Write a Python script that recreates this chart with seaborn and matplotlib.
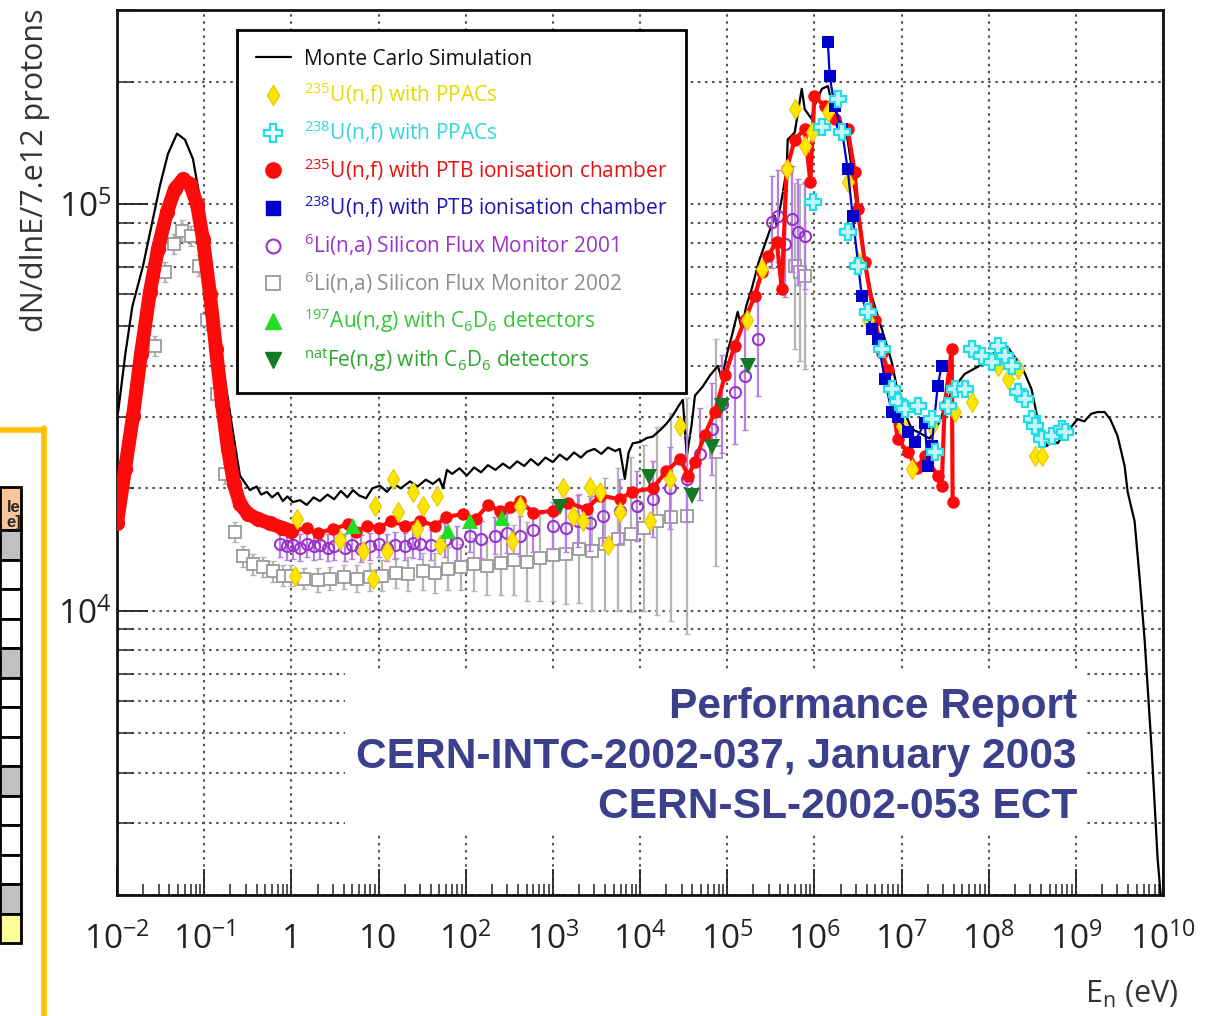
import numpy as np
import matplotlib
matplotlib.use("Agg")
import matplotlib.pyplot as plt
import seaborn as sns
from matplotlib.lines import Line2D
from matplotlib.patches import Rectangle
from matplotlib.ticker import FixedLocator, FixedFormatter, NullFormatter, LogLocator

# ---------------- data ----------------
mc_E = [0.0103, 0.0125, 0.015, 0.0199, 0.025, 0.0311, 0.0385, 0.0488, 0.0602, 0.0744,
        0.0896, 0.117, 0.164, 0.214, 0.257, 0.30, 0.335, 0.40, 0.45, 0.525, 0.60, 0.70,
        0.80, 0.90, 1.04, 1.26, 1.5, 1.8, 2.13, 2.6, 3.1, 3.7, 4.4, 5.1, 6.0, 7.2, 8.5,
        10.4, 12.5, 15, 18, 23, 28, 35, 42, 50, 55, 61, 70, 85, 103, 125, 150, 180, 220,
        267, 320, 390, 470, 560, 680, 820, 1000, 1200, 1450, 1750, 2100, 2455, 3000, 3600,
        4300, 5200, 5860, 6700, 7400, 8260, 1.0e4, 1.2e4, 1.4e4, 1.7e4, 2.0e4, 2.38e4,
        2.8e4, 3.1e4, 3.44e4, 3.9e4, 4.27e4, 5.2e4, 6.3e4, 7.8e4, 8.67e4, 1.0e5, 1.13e5,
        1.32e5, 1.47e5, 1.65e5, 1.91e5, 2.3e5, 2.92e5, 3.52e5, 3.71e5, 4.3e5, 4.82e5,
        4.95e5, 5.96e5, 7.17e5, 7.76e5, 9.3e5, 1.0e6, 1.22e6, 1.43e6, 1.62e6, 2.0e6,
        2.41e6, 2.8e6, 3.15e6, 3.79e6, 4.55e6, 5.93e6, 7.72e6, 9.06e6, 1.1e7, 1.31e7,
        1.7e7, 2.1e7, 2.7e7, 3.2e7, 3.86e7, 5.3e7, 7.5e7, 9.0e7, 1.11e8, 1.3e8, 1.65e8,
        2.0e8, 2.39e8, 3.11e8, 3.65e8, 4.63e8, 5.5e8, 6.2e8, 7.44e8, 8.5e8, 1.05e9,
        1.25e9, 1.5e9, 1.78e9, 2.14e9, 2.5e9, 3.01e9, 3.63e9, 3.93e9, 4.72e9, 5.4e9,
        6.15e9, 7.4e9, 8.67e9, 9.6e9]
mc_flux = [3.08e4, 4.3e4, 5.6e4, 7.05e4, 8.9e4, 1.11e5, 1.33e5, 1.49e5, 1.44e5, 1.29e5,
           1.03e5, 7.05e4, 4.0e4, 2.75e4, 2.15e4, 2.05e4, 1.98e4, 2.02e4, 1.93e4, 1.96e4,
           1.90e4, 1.95e4, 1.86e4, 1.91e4, 1.85e4, 1.87e4, 1.82e4, 1.90e4, 1.86e4, 1.93e4,
           1.88e4, 1.97e4, 1.90e4, 1.98e4, 1.92e4, 1.89e4, 2.00e4, 2.03e4, 1.96e4, 2.05e4,
           2.00e4, 2.08e4, 2.02e4, 2.10e4, 2.05e4, 2.11e4, 2.00e4, 2.22e4, 2.17e4, 2.24e4,
           2.15e4, 2.25e4, 2.19e4, 2.28e4, 2.22e4, 2.30e4, 2.24e4, 2.33e4, 2.27e4, 2.36e4,
           2.28e4, 2.38e4, 2.32e4, 2.42e4, 2.35e4, 2.45e4, 2.38e4, 2.46e4, 2.50e4, 2.43e4,
           2.52e4, 2.47e4, 2.50e4, 2.11e4, 2.45e4, 2.58e4, 2.60e4, 2.66e4, 2.68e4, 2.78e4,
           2.88e4, 3.02e4, 3.20e4, 3.30e4, 2.40e4, 2.85e4, 3.38e4, 3.55e4, 3.78e4, 4.00e4,
           3.72e4, 4.30e4, 4.74e4, 5.43e4, 4.94e4, 5.60e4, 6.18e4, 7.20e4, 8.34e4, 9.35e4,
           8.83e4, 1.05e5, 1.22e5, 1.44e5, 1.50e5, 1.92e5, 1.71e5, 1.62e5, 1.74e5, 1.92e5,
           1.95e5, 1.74e5, 1.60e5, 1.44e5, 1.15e5, 9.35e4, 7.20e4, 5.94e4, 4.94e4, 4.09e4,
           3.45e4, 3.05e4, 2.80e4, 2.72e4, 2.65e4, 2.90e4, 3.20e4, 3.50e4, 3.82e4, 3.98e4,
           4.10e4, 4.28e4, 4.38e4, 4.45e4, 4.20e4, 4.00e4, 3.50e4, 2.96e4, 2.54e4, 2.62e4,
           2.58e4, 2.75e4, 2.80e4, 2.96e4, 2.92e4, 3.05e4, 3.08e4, 3.08e4, 2.95e4, 2.69e4,
           2.27e4, 1.96e4, 1.66e4, 1.20e4, 8.5e3, 4.58e3, 2.46e3, 1.9e3]

# 235U(n,f) PTB ionisation chamber - thermal part
red_th_E = [0.0100, 0.01236, 0.01526, 0.01884, 0.02388, 0.02951, 0.03742, 0.04624, 0.05713,
            0.06873, 0.08268, 0.09683, 0.1166, 0.1366, 0.16, 0.1875, 0.2197, 0.2574, 0.318,
            0.414, 0.568, 0.78, 1.0]
red_th_flux = [1.64e4, 2.23e4, 3.01e4, 4.28e4, 6.08e4, 7.75e4, 9.56e4, 1.09e5, 1.15e5,
               1.12e5, 1.00e5, 8.2e4, 6.0e4, 4.4e4, 3.23e4, 2.5e4, 2.05e4, 1.83e4, 1.73e4,
               1.68e4, 1.64e4, 1.60e4, 1.57e4]
# 235U(n,f) PTB ionisation chamber - epithermal / fast part
red_E = [1.0, 1.5, 2.0, 3.0, 4.5, 5.5, 7.4, 10, 14, 20, 30, 45, 60, 93, 130, 180, 250, 321,
         420, 600, 1000, 1500, 2455, 3500, 5860, 8000, 1.4e4, 2.0e4, 2.86e4, 3.6e4, 4.25e4,
         5.5e4, 7.2e4, 9.5e4, 1.22e5, 1.6e5, 2.07e5, 2.5e5, 2.92e5, 3.71e5, 4.23e5, 4.82e5,
         5.96e5, 7.76e5, 9.0e5, 1.0e6, 1.32e6, 1.71e6, 2.41e6, 2.9e6, 3.15e6, 3.79e6,
         4.93e6, 6.0e6, 6.95e6, 9.04e6, 1.18e7, 1.5e7, 1.85e7, 2.6e7, 2.89e7, 3.13e7,
         3.77e7, 3.86e7]
red_flux = [1.57e4, 1.60e4, 1.55e4, 1.59e4, 1.63e4, 1.56e4, 1.62e4, 1.60e4, 1.66e4, 1.62e4,
            1.66e4, 1.62e4, 1.70e4, 1.73e4, 1.68e4, 1.82e4, 1.76e4, 1.80e4, 1.86e4, 1.74e4,
            1.76e4, 1.84e4, 1.78e4, 1.92e4, 1.88e4, 1.96e4, 2.0e4, 2.2e4, 2.36e4, 2.15e4,
            2.32e4, 2.7e4, 3.08e4, 3.8e4, 4.48e4, 5.2e4, 5.94e4, 6.8e4, 7.45e4, 8.07e4,
            6.18e4, 1.22e5, 1.44e5, 1.53e5, 1.13e5, 1.84e5, 1.74e5, 1.62e5, 1.53e5, 1.2e5,
            9.7e4, 7.2e4, 5.2e4, 4.3e4, 3.9e4, 2.65e4, 2.45e4, 2.25e4, 2.4e4, 2.15e4,
            2.03e4, 3.19e4, 4.4e4, 1.85e4]

# 238U(n,f) PTB ionisation chamber
blue_E = [1.43e6, 1.5e6, 1.71e6, 2.06e6, 2.41e6, 2.75e6, 3.5e6, 4.55e6, 5.33e6, 6.41e6,
          7.72e6, 9.04e6, 1.18e7, 1.42e7, 1.85e7, 2.0e7, 2.22e7, 2.6e7, 2.89e7]
blue_flux = [2.5e5, 2.06e5, 1.74e5, 1.53e5, 1.22e5, 9.35e4, 5.94e4, 4.94e4, 4.66e4, 3.72e4,
             3.08e4, 3.0e4, 2.75e4, 2.6e4, 2.9e4, 2.27e4, 2.54e4, 3.57e4, 4.0e4]

# 238U(n,f) with PPACs
cyan_E = [9.6e5, 1.22e6, 1.85e6, 2.06e6, 2.41e6, 3.15e6, 4.09e6, 5.93e6, 7.72e6, 9.04e6,
          1.09e7, 1.53e7, 2.22e7, 2.4e7, 3.39e7, 4.07e7, 5.3e7, 6.38e7, 8.31e7, 1.08e8,
          1.27e8, 1.52e8, 1.84e8, 2.15e8, 2.59e8, 3.11e8, 3.37e8, 4.06e8, 5.28e8, 6.87e8,
          7.44e8]
cyan_flux = [1.01e5, 1.55e5, 1.81e5, 1.5e5, 8.53e4, 7.05e4, 5.43e4, 4.4e4, 3.5e4, 3.26e4,
             3.13e4, 3.19e4, 2.96e4, 2.45e4, 3.19e4, 3.5e4, 3.5e4, 4.4e4, 4.24e4, 4.09e4,
             4.48e4, 4.24e4, 4.0e4, 3.45e4, 3.32e4, 2.96e4, 2.85e4, 2.65e4, 2.69e4, 2.8e4,
             2.75e4]

# 235U(n,f) with PPACs
yellow_E = [1.1, 1.16, 3.6, 6.6, 8.6, 9.1, 12.5, 14.6, 16.7, 24.8, 27.5, 32.3, 46.8, 50.6,
            339, 419, 1300, 1700, 2200, 2650, 3460, 4270, 5860, 1.29e4, 2.2e4, 2.86e4,
            1.68e5, 2.49e5, 4.82e5, 5.96e5, 7.76e5, 9.3e5, 1.43e6, 2.41e6, 3.15e6, 4.09e6,
            1.0e7, 1.31e7, 2.22e7, 4.07e7, 6.38e7, 1.27e8, 1.65e8, 2.15e8, 3.37e8, 4.06e8]
yellow_flux = [1.22e4, 1.68e4, 1.49e4, 1.4e4, 1.2e4, 1.81e4, 1.4e4, 2.11e4, 1.75e4, 1.96e4,
               1.59e4, 1.81e4, 1.92e4, 1.45e4, 1.48e4, 1.81e4, 2.0e4, 1.71e4, 1.66e4,
               2.02e4, 1.96e4, 1.45e4, 1.75e4, 1.66e4, 2.11e4, 2.85e4, 5.2e4, 6.92e4,
               1.22e5, 1.71e5, 1.39e5, 1.5e5, 1.68e5, 1.13e5, 7.2e4, 5.2e4, 2.85e4, 2.23e4,
               2.85e4, 3.08e4, 3.26e4, 4.0e4, 3.72e4, 3.93e4, 2.4e4, 2.4e4]

# 6Li(n,a) Silicon Flux Monitor 2001 (value, multiplicative error)
li01_E = [0.74, 0.9, 1.05, 1.26, 1.5, 1.8, 2.13, 2.6, 3.1, 4.1, 5.0, 6.3, 7.97, 10, 12.6,
          15.4, 20, 25, 29.9, 40, 57.7, 80, 112, 150, 216, 300, 419, 600, 1000, 1400, 1940,
          2700, 3740, 5860, 9180, 1.4e4, 2.2e4, 3.44e4, 4.85e4, 6.66e4, 8.67e4, 1.22e5,
          1.59e5, 2.24e5, 3.24e5, 3.8e5, 4.57e5, 5.5e5, 6.46e5, 7.76e5]
li01_flux = [1.46e4, 1.44e4, 1.45e4, 1.43e4, 1.46e4, 1.44e4, 1.45e4, 1.43e4, 1.44e4, 1.43e4,
             1.45e4, 1.42e4, 1.44e4, 1.46e4, 1.43e4, 1.45e4, 1.44e4, 1.47e4, 1.46e4, 1.45e4,
             1.49e4, 1.47e4, 1.53e4, 1.50e4, 1.53e4, 1.55e4, 1.53e4, 1.58e4, 1.62e4, 1.60e4,
             1.66e4, 1.64e4, 1.71e4, 1.76e4, 1.81e4, 1.88e4, 2.0e4, 2.11e4, 2.43e4, 2.8e4,
             3.23e4, 3.45e4, 3.78e4, 4.65e4, 9.04e4, 9.35e4, 7.97e4, 9.19e4, 8.53e4, 8.34e4]
li01_err = [1.08, 1.08, 1.08, 1.08, 1.08, 1.08, 1.08, 1.08, 1.08, 1.08, 1.08, 1.08, 1.08,
            1.08, 1.08, 1.08, 1.08, 1.09, 1.09, 1.09, 1.10, 1.10, 1.10, 1.11, 1.11, 1.12,
            1.12, 1.13, 1.14, 1.15, 1.16, 1.17, 1.18, 1.2, 1.22, 1.24, 1.26, 1.28, 1.3, 1.3,
            1.32, 1.34, 1.36, 1.38, 1.3, 1.3, 1.35, 1.35, 1.35, 1.35]

# 6Li(n,a) Silicon Flux Monitor 2002 (value, multiplicative error)
li02_E = [0.0273, 0.0355, 0.045, 0.0556, 0.0706, 0.0871, 0.1076, 0.14, 0.173, 0.225, 0.279,
          0.363, 0.472, 0.615, 0.801, 1.0, 1.4, 2.0, 2.8, 4.0, 5.6, 7.9, 11, 16, 22, 32, 45,
          63, 89, 126, 178, 251, 355, 501, 708, 1000, 1410, 2000, 2820, 3980, 5620, 7940,
          1.12e4, 1.58e4, 2.24e4, 3.5e4, 7.5e4, 5.96e5, 6.9e5, 7.76e5]
li02_flux = [4.48e4, 6.8e4, 7.97e4, 8.6e4, 8.34e4, 7.05e4, 5.2e4, 3.41e4, 2.17e4, 1.56e4,
             1.36e4, 1.30e4, 1.28e4, 1.25e4, 1.22e4, 1.22e4, 1.20e4, 1.19e4, 1.20e4, 1.21e4,
             1.20e4, 1.21e4, 1.22e4, 1.24e4, 1.23e4, 1.25e4, 1.24e4, 1.27e4, 1.28e4, 1.30e4,
             1.29e4, 1.31e4, 1.33e4, 1.32e4, 1.35e4, 1.37e4, 1.38e4, 1.42e4, 1.40e4, 1.46e4,
             1.50e4, 1.54e4, 1.60e4, 1.66e4, 1.70e4, 1.71e4, 2.45e4, 7.05e4, 6.8e4, 6.67e4]
li02_err = [1.06, 1.06, 1.06, 1.06, 1.06, 1.06, 1.06, 1.06, 1.06, 1.06, 1.06, 1.06, 1.06,
            1.06, 1.06, 1.06, 1.06, 1.07, 1.07, 1.07, 1.08, 1.08, 1.09, 1.09, 1.10, 1.11,
            1.12, 1.13, 1.14, 1.16, 1.18, 1.2, 1.22, 1.25, 1.28, 1.3, 1.33, 1.36, 1.4, 1.45,
            1.5, 1.55, 1.6, 1.7, 1.8, 1.95, 1.9, 1.6, 1.65, 1.7]

# 197Au(n,g) and natFe(n,g) with C6D6 detectors
au_E = [5.08, 62.5, 112, 260]
au_flux = [1.62e4, 1.57e4, 1.66e4, 1.69e4]
fe_E = [1200, 1.26e4, 3.93e4, 6.65e4, 8.67e4, 1.72e5]
fe_flux = [1.8e4, 2.13e4, 1.92e4, 2.53e4, 3.19e4, 4.0e4]

x_ticks = [1e-2, 1e-1, 1, 10, 1e2, 1e3, 1e4, 1e5, 1e6, 1e7, 1e8, 1e9, 1e10]
x_tick_labels = ['$10^{-2}$', '$10^{-1}$', '1', '10', '$10^{2}$', '$10^{3}$', '$10^{4}$',
                 '$10^{5}$', '$10^{6}$', '$10^{7}$', '$10^{8}$', '$10^{9}$', '$10^{10}$']
y_ticks = [1e4, 1e5]
y_tick_labels = ['$10^{4}$', '$10^{5}$']

legend_labels = ['Monte Carlo Simulation',
                 '$^{235}$U(n,f) with PPACs',
                 '$^{238}$U(n,f) with PPACs',
                 '$^{235}$U(n,f) with PTB ionisation chamber',
                 '$^{238}$U(n,f) with PTB ionisation chamber',
                 '$^{6}$Li(n,a) Silicon Flux Monitor 2001',
                 '$^{6}$Li(n,a) Silicon Flux Monitor 2002',
                 '$^{197}$Au(n,g) with C$_{6}$D$_{6}$ detectors',
                 '$^{\\mathrm{nat}}$Fe(n,g) with C$_{6}$D$_{6}$ detectors']
note_lines = ['Performance Report', 'CERN-INTC-2002-037, January 2003', 'CERN-SL-2002-053 ECT']

# ---------------- style ----------------
sns.set_theme(style='ticks')
plt.rcParams['font.family'] = ['Open Sans', 'DejaVu Sans']
plt.rcParams['mathtext.fontset'] = 'custom'
plt.rcParams['mathtext.rm'] = 'Open Sans'
plt.rcParams['mathtext.it'] = 'Open Sans:italic'
plt.rcParams['mathtext.bf'] = 'Open Sans:bold'

C_YEL, C_YEL_E = '#FFE600', '#E8C800'
C_CYAN = '#22DDE6'
C_RED = '#FF0A0A'
C_BLUE = '#0000CC'
C_PURP = '#9933CC'
C_GRAY = '#9A9A9A'
C_GREEN = '#22DD22'
C_DGREEN = '#117A22'

W, H = 1218, 1016
fig = plt.figure(figsize=(W / 100, H / 100), dpi=100)
ax = fig.add_axes([117 / W, 1 - 895 / H, (1163 - 117) / W, (895 - 10) / H])
ax.set_xscale('log')
ax.set_yscale('log')

# Monte Carlo
sns.lineplot(x=mc_E, y=mc_flux, color='black', lw=1.6, estimator=None, sort=False,
             ax=ax, zorder=3)

# 6Li 2002 (gray open squares with error bars)
g = np.array(li02_flux); ge = np.array(li02_err)
ax.errorbar(li02_E, g, yerr=[g - g / ge, g * ge - g], fmt='none', ecolor='#B4B4B4',
            elinewidth=1.6, capsize=2, zorder=2)
sns.lineplot(x=li02_E, y=li02_flux, estimator=None, sort=False, linestyle='none',
             marker='s', markersize=8, markerfacecolor='white', markeredgecolor=C_GRAY,
             markeredgewidth=1.3, color=C_GRAY, ax=ax, zorder=2.5)

# 6Li 2001 (purple open circles with error bars)
p = np.array(li01_flux); pe = np.array(li01_err)
ax.errorbar(li01_E, p, yerr=[p - p / pe, p * pe - p], fmt='none', ecolor='#B77FE6',
            elinewidth=1.6, capsize=2, zorder=4)
sns.lineplot(x=li01_E, y=li01_flux, estimator=None, sort=False, linestyle='none',
             marker='o', markersize=8, markerfacecolor='none', markeredgecolor=C_PURP,
             markeredgewidth=1.5, color=C_PURP, ax=ax, zorder=4.5)

# 235U PTB (red)
sns.lineplot(x=red_th_E, y=red_th_flux, estimator=None, sort=False, color=C_RED, lw=10,
             marker='o', markersize=11, markeredgewidth=0, ax=ax, zorder=5)
sns.lineplot(x=red_E, y=red_flux, estimator=None, sort=False, color=C_RED, lw=3,
             marker='o', markersize=9, markeredgewidth=0, ax=ax, zorder=5)

# 235U PPAC (yellow diamonds)
sns.lineplot(x=yellow_E, y=yellow_flux, estimator=None, sort=False, linestyle='none',
             marker='d', markersize=10, markerfacecolor=C_YEL, markeredgecolor=C_YEL_E,
             markeredgewidth=0.8, color=C_YEL, ax=ax, zorder=6)

# Au / Fe triangles
sns.lineplot(x=au_E, y=au_flux, estimator=None, sort=False, linestyle='none',
             marker='^', markersize=12, markerfacecolor=C_GREEN, markeredgewidth=0,
             color=C_GREEN, ax=ax, zorder=6.5)
sns.lineplot(x=fe_E, y=fe_flux, estimator=None, sort=False, linestyle='none',
             marker='v', markersize=12, markerfacecolor=C_DGREEN, markeredgewidth=0,
             color=C_DGREEN, ax=ax, zorder=6.5)

# 238U PTB (blue squares)
sns.lineplot(x=blue_E, y=blue_flux, estimator=None, sort=False, color=C_BLUE, lw=1.6,
             marker='s', markersize=8, markeredgewidth=0, ax=ax, zorder=7)

# 238U PPAC (cyan open crosses)
sns.lineplot(x=cyan_E, y=cyan_flux, estimator=None, sort=False, linestyle='none',
             marker='P', markersize=12, markerfacecolor='#C8F6F8', markeredgecolor=C_CYAN,
             markeredgewidth=1.6, color=C_CYAN, ax=ax, zorder=7.5)

# ---------------- axes ----------------
ax.set_xlim(1e-2, 1e10)
ax.set_ylim(2e3, 3e5)
ax.xaxis.set_major_locator(FixedLocator(x_ticks))
ax.xaxis.set_major_formatter(FixedFormatter(x_tick_labels))
ax.xaxis.set_minor_locator(LogLocator(base=10, subs=np.arange(2, 10), numticks=40))
ax.xaxis.set_minor_formatter(NullFormatter())
ax.yaxis.set_major_locator(FixedLocator(y_ticks))
ax.yaxis.set_major_formatter(FixedFormatter(y_tick_labels))
ax.yaxis.set_minor_locator(LogLocator(base=10, subs=np.arange(2, 10), numticks=40))
ax.yaxis.set_minor_formatter(NullFormatter())

ax.tick_params(axis='x', which='major', direction='in', length=19, width=1.3,
               labelsize=24, pad=20, colors='#222222')
ax.tick_params(axis='x', which='minor', direction='in', length=8, width=1.1)
ax.tick_params(axis='y', which='major', direction='in', length=22, width=1.3,
               labelsize=24, pad=4, colors='#222222')
ax.tick_params(axis='y', which='minor', direction='in', length=12, width=1.1)

for s in ax.spines.values():
    s.set_linewidth(2.0)
    s.set_color('#111111')
    s.set_visible(True)

ax.grid(True, axis='x', which='major', linestyle=(0, (1.2, 2.2)), color='#555555', lw=1.5)
ax.grid(True, axis='y', which='both', linestyle=(0, (1.2, 2.2)), color='#555555', lw=1.5)
ax.set_xlabel('')
ax.set_ylabel('')

# ---------------- legend ----------------
handles = [
    Line2D([], [], color='black', lw=1.6),
    Line2D([], [], ls='none', marker='d', ms=10, mfc=C_YEL, mec=C_YEL_E),
    Line2D([], [], ls='none', marker='P', ms=13, mfc='white', mec=C_CYAN, mew=1.6),
    Line2D([], [], ls='none', marker='o', ms=11, mfc=C_RED, mec=C_RED),
    Line2D([], [], ls='none', marker='s', ms=10, mfc=C_BLUE, mec=C_BLUE),
    Line2D([], [], ls='none', marker='o', ms=10, mfc='none', mec=C_PURP, mew=1.5),
    Line2D([], [], ls='none', marker='s', ms=10, mfc='none', mec=C_GRAY, mew=1.3),
    Line2D([], [], ls='none', marker='^', ms=12, mfc=C_GREEN, mec=C_GREEN),
    Line2D([], [], ls='none', marker='v', ms=12, mfc=C_DGREEN, mec=C_DGREEN),
]
text_colors = ['#111111', '#E8DA00', '#33D6DE', '#E81010', '#1818B0', '#9A33CC',
               '#8C8C8C', '#33C833', '#2CA82C']
leg = ax.legend(handles, legend_labels, loc='upper left',
                bbox_to_anchor=((237 - 117) / 1046, 1 - 20 / 885), borderaxespad=0,
                fontsize=15, handlelength=1.7, handletextpad=0.6, labelspacing=0.53,
                borderpad=0.9, frameon=True, fancybox=False, framealpha=1,
                edgecolor='black')
leg.get_frame().set_linewidth(2)
leg.set_zorder(20)
for t, c in zip(leg.get_texts(), text_colors):
    t.set_color(c)

# ---------------- annotation box ----------------
fig.add_artist(Rectangle((345 / W, 1 - 835 / H), (1085 - 345) / W, 165 / H,
                         transform=fig.transFigure, facecolor='white', edgecolor='none',
                         zorder=5))
for i, line in enumerate(note_lines):
    fig.text(1077 / W, 1 - (718 + 50 * i) / H, line, ha='right', va='baseline',
             fontsize=30.6, fontweight='bold', color='#3C3F8A',
             family=['Liberation Sans', 'DejaVu Sans'], zorder=6)

# ---------------- axis titles ----------------
fig.text(35 / W, 1 - 8 / H, 'dN/dlnE/7.e12 protons', rotation=90, ha='center', va='top',
         fontsize=22, color='#333333')
fig.text(1178 / W, 1 - 1010 / H, 'E$_{\\mathrm{n}}$ (eV)', ha='right', va='bottom',
         fontsize=22, color='#333333')

# ---------------- slide decoration at the left edge ----------------
orange = '#FFC000'
fig.add_artist(Line2D([44 / W, 44 / W], [0, 1 - 428 / H], transform=fig.transFigure,
                      color=orange, lw=4))
fig.add_artist(Line2D([0, 44 / W], [1 - 430 / H, 1 - 430 / H], transform=fig.transFigure,
                      color=orange, lw=4))
tab_top, tab_head, row_h = 487, 530, 29.5
row_colors = ['#C0C0C0', 'white', 'white', 'white', '#C0C0C0', 'white', 'white', 'white',
              '#C0C0C0', 'white', 'white', 'white', '#C0C0C0', '#FFFF99']
fig.add_artist(Rectangle((0, 1 - tab_head / H), 21 / W, (tab_head - tab_top) / H,
                         transform=fig.transFigure, facecolor='#F9C59A', edgecolor='black',
                         lw=2))
for i, rc in enumerate(row_colors):
    y0 = tab_head + i * row_h
    fig.add_artist(Rectangle((0, 1 - (y0 + row_h) / H), 21 / W, row_h / H,
                             transform=fig.transFigure, facecolor=rc, edgecolor='black',
                             lw=2))
fig.text(21 / W, 1 - 507 / H, 'le', ha='right', va='center', fontsize=12,
         fontweight='bold', family=['Liberation Sans'])
fig.text(21 / W, 1 - 523 / H, 'e]', ha='right', va='center', fontsize=12,
         fontweight='bold', family=['Liberation Sans'])

fig.savefig('out.png', dpi=100)
